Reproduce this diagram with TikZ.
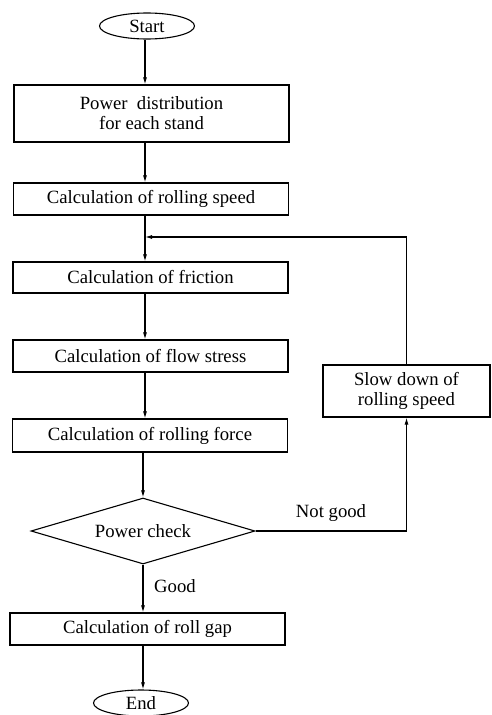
\documentclass[tikz,border=0pt]{standalone}
\usepackage{fontspec}
\setmainfont{Liberation Serif}
\usetikzlibrary{shapes.geometric,arrows.meta,calc}
\begin{document}
\begin{tikzpicture}[x=1pt,y=-1pt,
  line width=1.1pt,
  every node/.style={font=\fontsize{18.7}{20}\selectfont},
  procbox/.style={draw, rectangle, inner sep=0pt, minimum width=275pt, align=center},
  term/.style={draw, ellipse, inner sep=0pt, minimum width=95pt, minimum height=26pt},
  decide/.style={draw, diamond, aspect=3.4, inner sep=0pt, minimum width=224pt, minimum height=66pt},
  arr/.style={-{Latex[length=7pt,width=4pt]}}
]
\useasboundingbox (0,0) rectangle (491,715);
\node[term] (start) at (147,26) {Start};
\node[procbox, minimum height=57pt] (b1) at (151.5,113.5) {Power\ \ distribution\\for each stand};
\node[procbox, minimum height=32pt] (b2) at (151,199) {Calculation of rolling speed};
\node[procbox, minimum height=31pt] (b3) at (150.5,277.5) {Calculation of friction};
\node[procbox, minimum height=32pt] (b4) at (150.5,356) {Calculation of flow stress};
\node[procbox, minimum height=33pt] (b5) at (150,435.5) {Calculation of rolling force};
\node[decide] (chk) at (143,531) {Power check};
\node[procbox, minimum height=32pt] (b6) at (147.5,629) {Calculation of roll gap};
\node[term] (end) at (141,703) {End};
\node[draw, rectangle, minimum width=167pt, minimum height=52pt, align=center, inner sep=0pt] (slow) at (406.5,391) {Slow down of\\rolling speed};
\node (ng) at (331,513) {Not good};
\node (gd) at (175,586) {Good};
\coordinate (ax) at (145,0);
\coordinate (jn) at (145,237);
\draw[arr] (start.south -| ax) -- (b1.north -| ax);
\draw[arr] (b1.south -| ax) -- (b2.north -| ax);
\draw[arr] (b2.south -| ax) -- (b3.north -| ax);
\draw[arr] (b3.south -| ax) -- (b4.north -| ax);
\draw[arr] (b4.south -| ax) -- (b5.north -| ax);
\draw[arr] (b5.south -| chk.north) -- (chk.north);
\draw[arr] (chk.south) -- (b6.north -| chk.south);
\draw[arr] (b6.south -| chk.south) -- (end.north -| chk.south);
\draw[arr] (chk.east) -| (slow.south);
\draw[arr] (slow.north) |- (jn);
\end{tikzpicture}
\end{document}
